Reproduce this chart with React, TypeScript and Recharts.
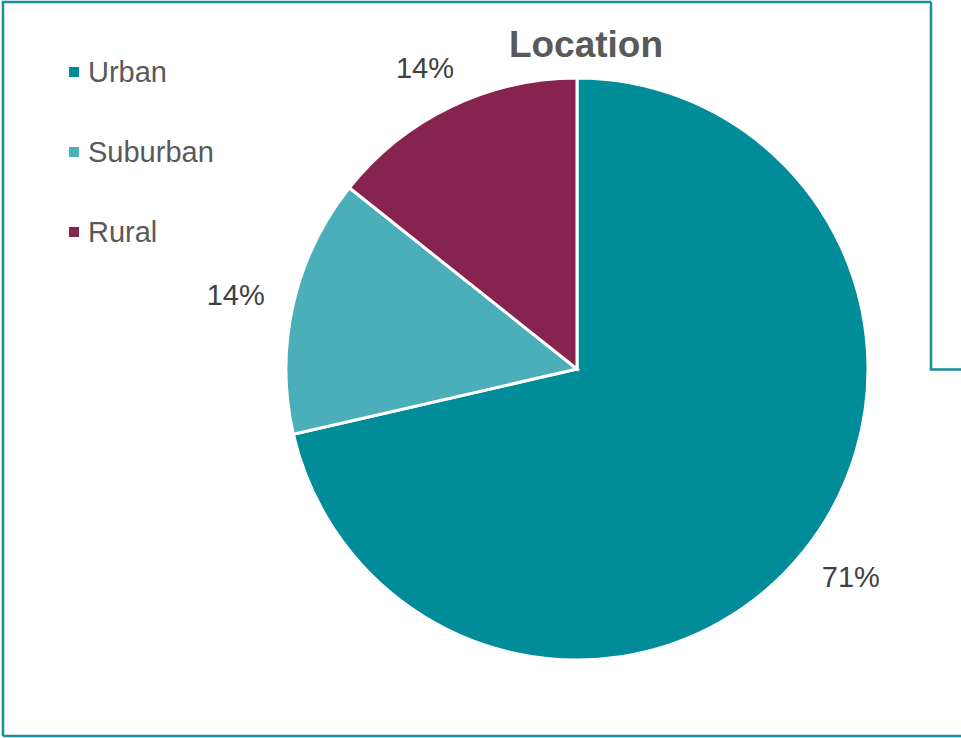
import React from 'react';
import { PieChart, Pie, Cell } from 'recharts';

const categories = ['Urban', 'Suburban', 'Rural'];
const shares = [71.4, 14.3, 14.3];
const colors = ['#008C98', '#4BAFBA', '#86244F'];
const title = 'Location';

const data = categories.map((name, i) => ({ name, value: shares[i] }));

const FONT = '"Liberation Sans", Arial, sans-serif';
const RAD = Math.PI / 180;
const LABEL_W = 58;
const LABEL_H = 26;

const renderLabel = (props: any) => {
  const { cx, cy, midAngle, outerRadius, percent } = props;
  const r = outerRadius + 30;
  const c = Math.cos(-midAngle * RAD);
  const s = Math.sin(-midAngle * RAD);
  const x = cx + r * c + (LABEL_W / 2) * c;
  const y = cy + r * s + (LABEL_H / 2) * s;
  return (
    <text x={x} y={y} fill="#404040" fontSize={29} fontFamily={FONT} textAnchor="middle" dominantBaseline="central">
      {`${Math.round(percent * 100)}%`}
    </text>
  );
};

export default function App() {
  return (
    <div style={{ position: 'absolute', left: 0, top: 0, width: 961, height: 738, background: '#fff' }}>
      <PieChart width={961} height={738} margin={{ top: 0, right: 0, bottom: 0, left: 0 }} style={{ position: 'absolute', left: 0, top: 0 }}>
        <Pie
          data={data}
          dataKey="value"
          nameKey="name"
          cx={577}
          cy={369}
          outerRadius={291}
          startAngle={90}
          endAngle={-270}
          stroke="#ffffff"
          strokeWidth={3}
          label={renderLabel}
          labelLine={false}
          isAnimationActive={false}
        >
          {data.map((d, i) => (
            <Cell key={d.name} fill={colors[i]} />
          ))}
        </Pie>
      </PieChart>
      <div style={{ position: 'absolute', left: 69, top: 32, fontFamily: FONT }}>
        {categories.map((c, i) => (
          <div key={c} style={{ display: 'flex', alignItems: 'center', height: 80 }}>
            <div style={{ width: 10, height: 10, background: colors[i], marginRight: 9 }} />
            <span style={{ fontSize: 29, color: '#595959' }}>{c}</span>
          </div>
        ))}
      </div>
      <svg width={961} height={738} style={{ position: 'absolute', left: 0, top: 0, pointerEvents: 'none' }}>
        <text x={586} y={57} textAnchor="middle" fontFamily={FONT} fontWeight="bold" fontSize={37} fill="#595959">
          {title}
        </text>
        <polyline points="931,2 3,2 3,736" fill="none" stroke="#17909B" strokeWidth={2.5} />
        <line x1={3} y1={736} x2={961} y2={736} stroke="#17909B" strokeWidth={2.5} />
        <polyline points="931,2 931,369.5 961,369.5" fill="none" stroke="#17909B" strokeWidth={2.5} />
      </svg>
    </div>
  );
}
